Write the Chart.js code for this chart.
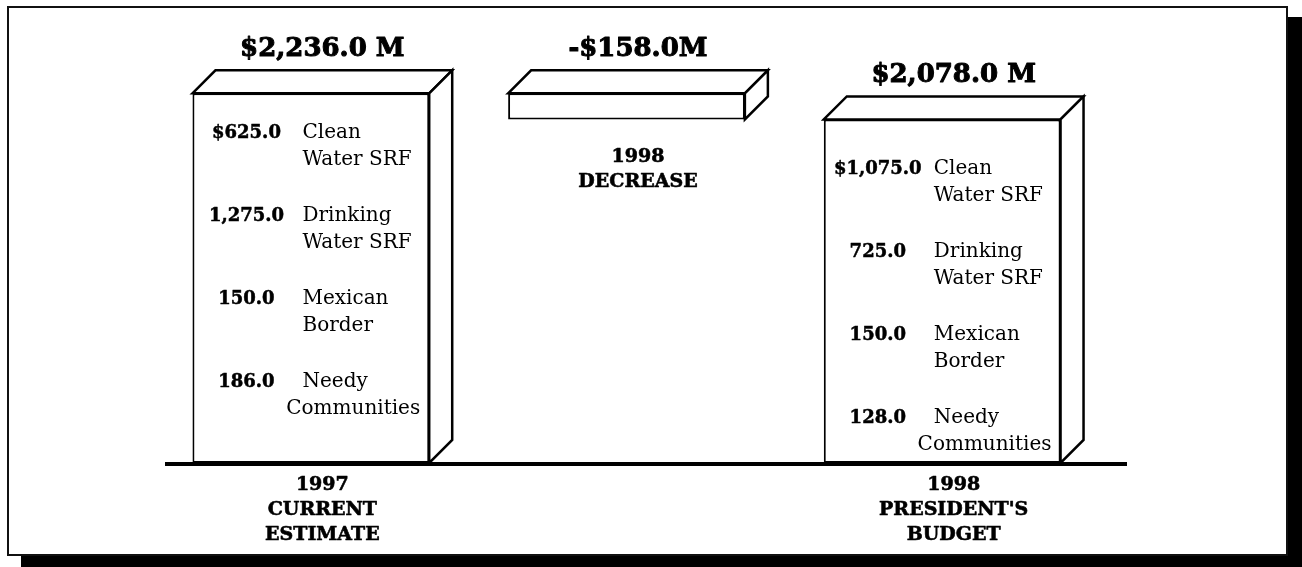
<!DOCTYPE html>
<html>
<head>
<meta charset="utf-8">
<script src="https://cdn.jsdelivr.net/npm/chart.js@4.4.1/dist/chart.umd.min.js"></script>
<style>
  body { margin: 0; background: #fff; }
  #frame { position: absolute; left: 7px; top: 6px; width: 1277px; height: 546px; border: 2px solid #111; background: #fff; box-shadow: 14px 11px 0 #000; }
  #myChart { position: absolute; left: 0; top: 0; }
</style>
</head>
<body>
<div id="frame"></div>
<canvas id="myChart" width="1302" height="567"></canvas>
<script>
// data
const categories = [['1997', 'CURRENT', 'ESTIMATE'], ['1998', 'DECREASE'], ['1998', "PRESIDENT'S", 'BUDGET']];
const programs = [['Clean', 'Water SRF'], ['Drinking', 'Water SRF'], ['Mexican', 'Border'], ['Needy', 'Communities']];
const estimate97 = [625.0, 1275.0, 150.0, 186.0];
const budget98 = [1075.0, 725.0, 150.0, 128.0];

const total97 = estimate97.reduce((a, b) => a + b, 0);
const total98 = budget98.reduce((a, b) => a + b, 0);
const fmt = v => v.toLocaleString('en-US', { minimumFractionDigits: 1, maximumFractionDigits: 1 });
const titles = ['$' + fmt(total97) + ' M', '-$' + fmt(total97 - total98) + 'M', '$' + fmt(total98) + ' M'];
const breakdown = { 0: estimate97, 2: budget98 };

const depth = 23;
const serif = '"DejaVu Serif", "Liberation Serif", serif';
const innerTop = { 0: 45, 2: 55 };

// bold text with a thin stroke so it looks heavier, like the original
function heavyText(c, txt, x, y, w) {
  c.lineWidth = w;
  c.strokeText(txt, x, y);
  c.fillText(txt, x, y);
}

const boxPlugin = {
  id: 'box3d',
  afterDatasetsDraw(chart) {
    const c = chart.ctx;
    const bars = chart.getDatasetMeta(0).data;
    const yZero = chart.scales.y.getPixelForValue(0);
    const area = chart.chartArea;
    c.save();
    c.strokeStyle = '#000';
    c.lineJoin = 'miter';

    bars.forEach((b, i) => {
      const l = b.x - b.width / 2, r = b.x + b.width / 2;
      const top = Math.min(b.y, b.base), bot = Math.max(b.y, b.base);
      c.fillStyle = '#fff';
      c.lineWidth = 2.5;
      // top face
      c.beginPath();
      c.moveTo(l, top); c.lineTo(l + depth, top - depth); c.lineTo(r + depth, top - depth); c.lineTo(r, top);
      c.closePath(); c.fill(); c.stroke();
      // side face
      c.beginPath();
      c.moveTo(r, top); c.lineTo(r + depth, top - depth); c.lineTo(r + depth, bot - depth); c.lineTo(r, bot);
      c.closePath(); c.fill(); c.stroke();

      const cx = b.x + depth / 2;
      c.fillStyle = '#000';
      c.textAlign = 'center';
      c.textBaseline = 'alphabetic';
      c.lineJoin = 'round';
      // total above box
      c.font = 'bold 26px ' + serif;
      heavyText(c, titles[i], cx, top - depth - 14, 1);
      // category label
      c.font = 'bold 19px ' + serif;
      const y0 = Math.abs(bot - yZero) < 1 ? bot + 27 : bot + 43;
      categories[i].forEach((line, k) => heavyText(c, line, cx, y0 + k * 25, 0.6));

      // breakdown inside box
      const vals = breakdown[i];
      if (vals) {
        vals.forEach((v, k) => {
          const gy = top + innerTop[i] + k * 83;
          c.textAlign = 'center';
          c.font = 'bold 18px ' + serif;
          heavyText(c, (k === 0 ? '$' : '') + fmt(v), l + 54, gy, 0.5);
          c.font = '20px ' + serif;
          programs[k].forEach((line, j) => {
            const w = c.measureText(line).width;
            if (l + 110 + w > r - 6) {
              c.textAlign = 'right';
              c.fillText(line, r - 9, gy + j * 27);
            } else {
              c.textAlign = 'left';
              c.fillText(line, l + 110, gy + j * 27);
            }
          });
        });
      }
      c.lineJoin = 'miter';
    });

    // baseline
    c.lineWidth = 4;
    c.beginPath();
    c.moveTo(area.left + 12, yZero + 1);
    c.lineTo(area.right + 27, yZero + 1);
    c.stroke();
    c.restore();
  }
};

new Chart(document.getElementById('myChart'), {
  type: 'bar',
  data: {
    labels: categories.map(c => c.join(' ')),
    datasets: [{
      data: [[0, total97], [total98, total97], [0, total98]],
      backgroundColor: '#fff',
      borderColor: '#000',
      borderWidth: 2,
      borderSkipped: false,
      barPercentage: 0.75,
      categoryPercentage: 1
    }]
  },
  options: {
    responsive: false,
    animation: false,
    layout: { padding: { top: 10, bottom: 104, left: 153, right: 202 } },
    scales: {
      x: { display: false },
      y: { display: false, min: 0, max: 2740 }
    },
    plugins: {
      legend: { display: false },
      tooltip: { enabled: false }
    }
  },
  plugins: [boxPlugin]
});
</script>
</body>
</html>
